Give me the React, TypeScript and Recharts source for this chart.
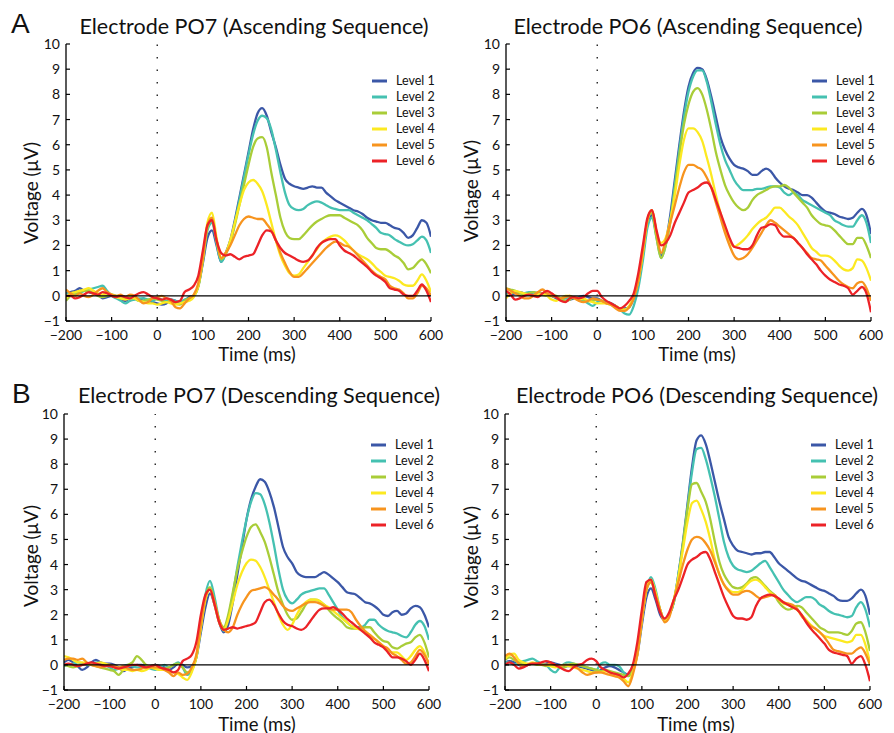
import React from 'react';
import { LineChart, Line, XAxis, YAxis, ReferenceLine } from 'recharts';

const TIMES = [
  -200, -190, -180, -170, -160, -150, -140, -130, -120, -110, -100, -90, -80, -70, -60, -50, -40, -30, -20, -10,
  0, 10, 20, 30, 40, 50, 60, 70, 80, 90, 100, 110, 120, 130, 140, 150, 160, 170, 180, 190,
  200, 210, 220, 230, 240, 250, 260, 270, 280, 290, 300, 310, 320, 330, 340, 350, 360, 370, 380, 390,
  400, 410, 420, 430, 440, 450, 460, 470, 480, 490, 500, 510, 520, 530, 540, 550, 560, 570, 580, 590, 600,
];
const X_TICKS = [-200, -100, 0, 100, 200, 300, 400, 500, 600];
const Y_TICKS = [-1, 0, 1, 2, 3, 4, 5, 6, 7, 8, 9, 10];
const LEVELS = ['Level 1', 'Level 2', 'Level 3', 'Level 4', 'Level 5', 'Level 6'];
const COLORS = ['#3b57a7', '#45c1b1', '#a9cd38', '#fce921', '#f7941e', '#ec2227'];

// Electrode PO7, ascending sequence
const PO7_ASC_L1 = [0.1,0.15,0.2,0.3,0.2,0.15,0.1,0.05,-0.1,-0.05,0.0,-0.05,-0.15,-0.2,-0.1,-0.1,-0.15,-0.1,-0.2,-0.25,
  -0.3,-0.35,-0.3,-0.15,-0.2,-0.3,-0.2,-0.05,0.0,0.4, 1.3,2.3,2.6,2.0,1.35,1.7,2.2,3.0,3.9,4.8,
  5.7,6.6,7.25,7.45,7.15,6.5,5.9,5.2,4.65,4.45, 4.35,4.3,4.25,4.3,4.35,4.3,4.3,4.1,3.95,3.8,
  3.7,3.6,3.5,3.4,3.35,3.25,3.1,3.0,2.95,2.9,2.9,2.8,2.7,2.65,2.5,2.3,2.4,2.7,3.0,2.9,2.35];
const PO7_ASC_L2 = [0.1,0.1,0.05,0.1,0.2,0.25,0.3,0.35,0.4,0.2,0.0,-0.1,-0.2,-0.3,-0.2,-0.15,-0.1,-0.1,-0.15,-0.2,
  -0.1,-0.15,-0.2,-0.15,-0.2,-0.25,-0.15,-0.1,0.0,0.4, 1.4,2.6,2.9,2.1,1.35,1.65,2.1,2.9,3.8,4.7,
  5.6,6.4,6.95,7.15,7.05,6.6,5.8,4.9,4.1,3.6, 3.45,3.4,3.45,3.6,3.7,3.75,3.7,3.6,3.5,3.45,
  3.4,3.4,3.4,3.3,3.2,3.1,3.0,2.85,2.7,2.5,2.45,2.4,2.25,2.15,2.05,2.0,2.05,2.2,2.35,2.2,1.7];
const PO7_ASC_L3 = [-0.2,0.0,0.1,0.15,0.2,0.2,0.1,0.0,-0.05,0.0,0.05,0.0,-0.1,-0.1,-0.05,-0.1,-0.2,-0.2,-0.15,-0.1,
  -0.15,-0.2,-0.25,-0.2,-0.3,-0.35,-0.2,-0.1,0.0,0.35, 1.4,2.7,3.0,2.2,1.45,1.65,2.1,2.8,3.6,4.4,
  5.2,5.9,6.25,6.3,5.9,4.9,4.0,3.1,2.55,2.3, 2.25,2.25,2.4,2.6,2.8,2.95,3.05,3.15,3.2,3.2,
  3.2,3.1,3.0,2.9,2.8,2.6,2.3,2.1,1.9,1.85,1.85,1.75,1.6,1.5,1.3,1.05,1.1,1.3,1.45,1.25,0.9];
const PO7_ASC_L4 = [-0.1,0.1,0.15,0.2,0.25,0.3,0.2,0.1,0.05,0.1,0.05,-0.05,-0.1,-0.15,-0.1,-0.1,-0.2,-0.25,-0.3,-0.3,
  -0.35,-0.3,-0.25,-0.3,-0.35,-0.3,-0.25,-0.2,-0.05,0.4, 1.5,2.9,3.3,2.3,1.5,1.7,2.2,2.9,3.6,4.2,
  4.5,4.6,4.45,4.15,3.6,2.9,2.2,1.6,1.2,0.9, 0.8,0.85,1.1,1.35,1.6,1.85,2.1,2.25,2.35,2.4,
  2.35,2.2,2.0,1.8,1.65,1.55,1.45,1.3,1.1,0.95,0.8,0.75,0.7,0.6,0.45,0.4,0.4,0.6,0.85,0.6,0.15];
const PO7_ASC_L5 = [0.25,0.1,0.0,0.1,0.0,-0.05,0.05,0.2,0.3,0.15,0.05,0.0,0.05,-0.05,0.05,0.0,-0.15,-0.3,-0.25,-0.1,
  -0.05,0.0,-0.1,-0.2,-0.45,-0.5,-0.3,-0.1,0.05,0.5, 1.5,2.8,3.1,2.2,1.5,1.7,2.0,2.4,2.8,3.05,
  3.15,3.1,3.05,3.05,2.85,2.6,2.2,1.7,1.3,0.95, 0.75,0.75,0.9,1.1,1.3,1.5,1.7,1.9,2.05,2.15,
  2.1,2.0,1.95,1.8,1.6,1.4,1.2,1.0,0.85,0.75,0.65,0.4,0.3,0.25,0.1,-0.1,-0.1,0.1,0.4,0.3,0.0];
const PO7_ASC_L6 = [0.0,0.0,-0.1,-0.05,0.05,0.15,0.1,0.05,0.15,0.1,0.0,-0.05,0.0,-0.05,-0.1,0.0,0.1,0.15,0.05,-0.05,
  -0.1,-0.15,-0.1,-0.15,-0.25,-0.2,0.15,0.25,0.4,0.8, 1.8,2.8,3.0,2.2,1.7,1.6,1.65,1.55,1.45,1.55,
  1.6,1.65,2.0,2.4,2.6,2.55,2.2,1.9,1.7,1.6, 1.5,1.4,1.35,1.4,1.6,1.9,2.1,2.2,2.25,2.25,
  2.0,1.8,1.7,1.6,1.45,1.3,1.15,0.95,0.8,0.7,0.55,0.3,0.25,0.2,0.05,0.0,0.0,0.2,0.45,0.2,-0.25];

// Electrode PO6, ascending sequence
const PO6_ASC_L1 = [0.0,0.05,0.1,0.15,0.1,0.1,0.05,0.1,0.1,0.05,0.0,-0.1,-0.15,-0.2,-0.15,-0.1,-0.05,0.0,-0.05,-0.1,
  -0.1,-0.2,-0.25,-0.3,-0.4,-0.5,-0.5,-0.45,-0.1,0.5, 1.6,2.9,3.2,2.4,1.6,2.1,3.2,4.6,6.0,7.3,
  8.3,8.85,9.05,9.0,8.6,7.9,7.1,6.3,5.8,5.45, 5.2,5.1,5.05,4.95,4.8,4.8,4.95,5.05,4.95,4.7,
  4.5,4.35,4.25,4.2,4.1,4.0,4.0,3.9,3.7,3.5,3.35,3.3,3.25,3.15,3.1,3.05,3.1,3.3,3.45,3.2,2.45];
const PO6_ASC_L2 = [0.1,0.1,0.15,0.1,0.1,0.15,0.15,0.1,0.05,0.05,0.0,-0.05,-0.1,-0.1,-0.05,-0.1,-0.15,-0.2,-0.3,-0.4,
  -0.25,-0.2,-0.25,-0.3,-0.4,-0.55,-0.7,-0.75,-0.4,0.3, 1.4,2.7,3.1,2.3,1.5,2.0,3.0,4.4,5.8,7.1,
  8.1,8.7,8.95,8.95,8.5,7.7,6.8,6.0,5.4,5.0, 4.6,4.35,4.2,4.2,4.2,4.25,4.25,4.3,4.35,4.35,
  4.3,4.1,4.0,4.1,4.0,3.8,3.7,3.6,3.5,3.4,3.3,3.2,3.0,2.9,2.8,2.75,2.75,3.0,3.2,2.9,2.1];
const PO6_ASC_L3 = [0.3,0.25,0.2,0.1,0.05,0.1,0.15,0.1,0.05,0.0,0.05,0.0,-0.1,-0.2,-0.15,-0.05,-0.1,-0.15,-0.2,-0.2,
  -0.15,-0.2,-0.3,-0.35,-0.45,-0.55,-0.55,-0.45,-0.05,0.6, 1.7,3.0,3.3,2.3,1.5,2.0,2.9,4.2,5.6,6.8,
  7.6,8.1,8.25,8.0,7.4,6.6,5.7,5.0,4.4,4.0, 3.7,3.5,3.4,3.5,3.8,4.0,4.1,4.2,4.3,4.35,
  4.35,4.4,4.3,4.1,3.9,3.7,3.5,3.2,3.0,2.85,2.8,2.75,2.6,2.4,2.2,2.05,2.05,2.3,2.3,2.0,1.5];
const PO6_ASC_L4 = [-0.1,0.1,0.2,0.15,0.1,0.05,0.0,0.05,0.1,0.0,-0.15,-0.2,-0.1,0.0,0.0,-0.1,-0.15,-0.1,-0.2,-0.25,
  -0.3,-0.3,-0.3,-0.35,-0.4,-0.5,-0.55,-0.4,0.0,0.6, 1.7,3.0,3.4,2.5,2.1,2.3,3.0,4.0,5.2,6.2,
  6.65,6.65,6.5,6.15,5.5,4.8,4.0,3.3,2.7,2.2, 1.95,2.05,2.2,2.4,2.65,2.85,3.0,3.1,3.3,3.5,
  3.5,3.35,3.15,3.0,2.8,2.5,2.2,1.9,1.75,1.6,1.6,1.55,1.4,1.2,1.05,1.0,1.1,1.45,1.4,1.1,0.6];
const PO6_ASC_L5 = [0.3,0.2,0.1,0.0,-0.1,-0.1,0.0,0.15,0.25,0.1,0.0,-0.05,-0.1,-0.05,0.0,-0.1,-0.2,-0.25,-0.2,-0.1,
  -0.15,-0.2,-0.3,-0.35,-0.5,-0.6,-0.6,-0.45,-0.1,0.6, 1.8,3.0,3.4,2.5,1.7,2.2,2.9,3.6,4.3,4.9,
  5.2,5.2,5.1,5.0,4.7,4.3,3.7,3.1,2.5,2.0, 1.6,1.45,1.5,1.65,1.9,2.2,2.5,2.8,3.0,2.9,
  2.75,2.6,2.45,2.3,2.1,1.9,1.7,1.5,1.45,1.4,1.2,1.0,0.8,0.6,0.45,0.35,0.3,0.5,0.55,0.3,-0.2];
const PO6_ASC_L6 = [0.2,0.05,-0.15,-0.1,0.0,0.05,0.0,-0.05,0.1,0.2,0.1,-0.05,-0.2,-0.25,-0.1,-0.05,-0.1,-0.05,0.1,0.2,
  0.2,-0.05,-0.2,-0.3,-0.4,-0.5,-0.4,-0.2,0.1,0.9, 2.0,3.1,3.4,2.6,2.0,2.1,2.4,2.9,3.3,3.7,
  4.1,4.2,4.3,4.45,4.5,4.3,3.8,3.3,2.8,2.3, 1.95,1.9,1.85,1.85,2.0,2.4,2.7,2.75,2.85,2.8,
  2.5,2.35,2.35,2.3,2.1,1.9,1.65,1.45,1.25,1.0,0.8,0.65,0.55,0.45,0.4,0.3,0.05,0.2,0.35,0.1,-0.65];

// Electrode PO7, descending sequence
const PO7_DESC_L1 = [0.1,0.2,0.1,-0.05,-0.2,-0.1,0.1,0.2,0.1,0.05,0.05,0.0,-0.1,-0.25,-0.15,-0.1,0.0,0.0,-0.05,-0.1,
  0.0,-0.05,-0.1,-0.2,-0.1,0.05,0.0,-0.1,-0.05,0.3, 1.3,2.3,2.85,2.4,1.7,1.3,1.6,2.5,3.6,4.7,
  5.8,6.6,7.1,7.4,7.3,6.9,6.3,5.5,4.7,4.3, 4.05,3.7,3.55,3.5,3.5,3.5,3.6,3.7,3.6,3.45,
  3.3,3.1,2.9,2.85,2.8,2.65,2.5,2.45,2.35,2.2,2.0,1.95,2.1,2.15,2.0,2.05,2.25,2.35,2.3,2.0,1.5];
const PO7_DESC_L2 = [-0.05,0.0,0.05,0.1,0.05,0.0,0.0,0.1,0.05,0.0,-0.1,-0.2,-0.15,-0.05,0.0,-0.05,-0.1,-0.1,-0.1,-0.15,
  -0.2,-0.1,0.0,-0.1,0.0,0.1,-0.1,-0.4,-0.2,0.3, 1.5,2.8,3.35,2.7,1.8,1.35,1.9,2.8,3.9,4.9,
  5.8,6.5,6.85,6.8,6.4,5.7,4.8,3.8,3.0,2.6, 2.45,2.6,2.8,2.9,2.95,3.0,3.05,3.05,2.8,2.5,
  2.2,1.9,1.7,1.55,1.5,1.5,1.6,1.8,1.8,1.6,1.45,1.35,1.3,1.25,1.15,1.1,1.3,1.6,1.75,1.55,1.0];
const PO7_DESC_L3 = [0.0,-0.05,-0.1,-0.05,0.0,0.05,0.0,-0.05,-0.1,-0.15,-0.2,-0.25,-0.4,-0.2,0.0,0.1,0.35,0.2,0.0,-0.1,
  -0.15,-0.2,-0.15,-0.1,0.0,0.05,-0.1,-0.3,-0.2,0.3, 1.5,2.7,3.1,2.5,1.8,1.5,2.0,2.9,3.8,4.5,
  5.1,5.5,5.6,5.3,4.9,4.3,3.6,2.9,2.4,2.0, 1.8,1.85,2.1,2.4,2.6,2.6,2.55,2.4,2.2,2.0,
  1.85,1.7,1.5,1.45,1.45,1.45,1.5,1.5,1.3,1.1,0.95,0.9,0.7,0.65,0.75,0.85,0.9,1.1,1.2,0.9,0.3];
const PO7_DESC_L4 = [0.35,0.3,0.2,0.1,0.1,0.05,0.0,0.05,0.1,0.05,0.0,-0.1,-0.15,-0.2,-0.2,-0.25,-0.2,-0.25,-0.2,-0.1,
  -0.15,-0.2,-0.2,-0.25,-0.3,-0.35,-0.5,-0.6,-0.3,0.3, 1.5,2.6,3.0,2.4,1.7,1.4,1.8,2.5,3.2,3.7,
  4.05,4.2,4.15,3.9,3.5,3.0,2.5,2.0,1.6,1.4, 1.6,2.0,2.3,2.5,2.6,2.6,2.55,2.4,2.3,2.15,
  2.0,1.85,1.7,1.55,1.45,1.4,1.3,1.2,1.05,0.9,0.75,0.6,0.5,0.5,0.35,0.2,0.35,0.6,0.75,0.5,0.0];
const PO7_DESC_L5 = [0.2,0.25,0.25,0.2,0.25,0.1,0.0,-0.05,-0.1,-0.05,0.0,-0.05,-0.1,-0.05,-0.15,-0.2,-0.2,-0.15,-0.1,-0.1,
  -0.1,-0.1,-0.2,-0.3,-0.45,-0.3,-0.4,-0.35,-0.1,0.4, 1.6,2.7,3.0,2.5,1.8,1.4,1.3,1.5,2.0,2.4,
  2.7,2.95,3.0,3.05,3.1,3.0,2.8,2.6,2.35,2.2, 2.15,2.25,2.35,2.45,2.5,2.5,2.45,2.35,2.25,2.2,
  2.2,2.2,2.2,2.1,1.8,1.55,1.35,1.2,1.05,0.9,0.75,0.65,0.45,0.35,0.2,0.05,0.1,0.35,0.6,0.4,0.05];
const PO7_DESC_L6 = [0.0,0.05,0.0,-0.05,0.0,0.05,0.1,0.05,0.0,-0.05,-0.05,-0.1,-0.15,-0.1,-0.05,0.0,0.0,-0.05,-0.1,-0.05,
  0.0,-0.1,-0.15,-0.2,-0.3,-0.2,0.15,0.25,0.4,0.9, 2.0,2.8,3.0,2.4,1.7,1.4,1.45,1.5,1.45,1.5,
  1.55,1.6,1.7,2.1,2.5,2.6,2.4,2.05,1.75,1.6, 1.55,1.45,1.4,1.5,1.75,2.0,2.2,2.25,2.25,2.3,
  2.2,2.05,1.85,1.7,1.55,1.4,1.25,1.1,0.9,0.8,0.7,0.5,0.3,0.3,0.25,0.15,0.0,0.2,0.45,0.2,-0.25];

// Electrode PO6, descending sequence
const PO6_DESC_L1 = [0.1,0.15,0.1,0.0,-0.05,0.0,0.05,0.05,0.0,0.05,0.1,0.05,0.0,-0.05,-0.05,0.0,-0.05,-0.1,-0.15,-0.2,
  -0.3,-0.2,-0.1,-0.05,-0.1,-0.2,-0.3,-0.4,-0.2,0.4, 1.6,2.7,3.05,2.6,2.0,1.8,2.0,2.5,3.6,4.9,
  6.4,7.9,8.95,9.15,8.8,8.1,7.3,6.5,5.8,5.1, 4.75,4.55,4.5,4.45,4.4,4.45,4.45,4.5,4.5,4.3,
  4.05,3.9,3.75,3.6,3.45,3.35,3.3,3.2,3.1,3.0,2.95,2.85,2.75,2.6,2.55,2.55,2.65,2.85,3.0,2.75,2.0];
const PO6_DESC_L2 = [0.1,0.1,0.0,0.1,0.15,0.2,0.25,0.15,0.05,0.0,-0.2,-0.3,-0.1,0.05,0.1,0.05,0.0,-0.05,-0.1,-0.15,
  -0.2,0.05,0.1,0.0,0.0,-0.05,-0.3,-0.45,-0.2,0.5, 1.8,3.0,3.5,3.0,2.2,1.75,2.0,2.5,3.6,4.8,
  6.3,7.7,8.6,8.65,8.2,7.5,6.7,5.8,4.9,4.3, 3.95,3.8,3.75,3.7,3.75,3.9,4.05,4.15,3.9,3.6,
  3.3,3.0,2.8,2.6,2.5,2.6,2.7,2.7,2.6,2.4,2.3,2.15,2.05,2.0,1.95,1.9,1.95,2.3,2.5,2.2,1.5];
const PO6_DESC_L3 = [0.2,0.3,0.2,0.1,0.05,0.0,0.05,0.0,0.0,-0.05,0.0,-0.05,-0.1,-0.1,0.0,0.05,0.0,-0.05,-0.1,-0.15,
  -0.2,-0.25,-0.2,-0.25,-0.3,-0.35,-0.4,-0.45,-0.2,0.5, 1.8,3.0,3.3,2.8,2.2,1.8,2.0,2.5,3.5,4.8,
  6.2,7.2,7.25,6.9,6.5,5.8,4.9,4.1,3.6,3.3, 3.1,3.05,3.1,3.25,3.45,3.5,3.35,3.15,2.95,2.8,
  2.5,2.3,2.2,2.25,2.35,2.3,2.1,1.9,1.7,1.5,1.4,1.3,1.3,1.3,1.25,1.2,1.35,1.65,1.7,1.3,0.55];
const PO6_DESC_L4 = [0.25,0.4,0.45,0.2,0.1,0.05,0.1,0.05,0.0,0.0,-0.05,-0.1,-0.05,0.0,-0.05,-0.1,-0.15,-0.2,-0.25,-0.3,
  -0.3,-0.3,-0.25,-0.3,-0.35,-0.45,-0.55,-0.7,-0.3,0.4, 1.8,3.0,3.4,2.9,2.2,1.75,2.0,2.6,3.5,4.6,
  5.7,6.45,6.55,6.2,5.7,5.0,4.2,3.6,3.2,3.0, 2.9,2.9,3.0,3.2,3.35,3.4,3.3,3.1,2.9,2.75,
  2.6,2.45,2.4,2.3,2.2,2.0,1.8,1.6,1.45,1.3,1.15,1.1,1.05,1.0,0.95,0.9,0.95,1.2,1.2,0.8,0.1];
const PO6_DESC_L5 = [0.35,0.45,0.3,0.05,-0.05,0.0,0.05,0.05,0.0,0.0,0.05,0.0,-0.05,0.0,0.0,-0.05,-0.15,-0.3,-0.4,-0.35,
  -0.3,-0.3,-0.35,-0.4,-0.45,-0.5,-0.65,-0.85,-0.4,0.4, 1.8,3.0,3.3,2.8,2.2,1.7,1.9,2.6,3.3,4.0,
  4.6,5.0,5.1,5.05,4.85,4.55,4.1,3.6,3.2,2.95, 2.8,2.8,2.9,2.95,2.9,2.75,2.65,2.7,2.75,2.8,
  2.6,2.5,2.45,2.4,2.25,1.95,1.75,1.55,1.45,1.3,1.1,0.85,0.6,0.55,0.5,0.45,0.45,0.6,0.7,0.45,0.0];
const PO6_DESC_L6 = [0.0,0.1,0.0,-0.15,-0.1,0.0,0.05,0.05,0.1,0.15,0.1,0.0,-0.1,-0.2,-0.25,-0.1,0.0,0.05,0.2,0.25,
  0.15,-0.1,-0.2,-0.3,-0.35,-0.4,-0.5,-0.35,0.0,0.9, 2.2,3.3,3.4,2.7,2.1,1.85,2.1,2.6,3.0,3.5,
  4.0,4.2,4.3,4.45,4.5,4.2,3.7,3.2,2.7,2.3, 1.95,1.85,1.85,1.8,1.9,2.35,2.65,2.75,2.8,2.75,
  2.65,2.5,2.4,2.3,2.2,2.0,1.7,1.45,1.25,1.05,0.85,0.6,0.5,0.45,0.4,0.35,0.05,0.25,0.35,0.0,-0.65];

const buildRows = (series: number[][]) =>
  TIMES.map((t, i) => {
    const row: Record<string, number> = { t };
    series.forEach((s, k) => {
      row['l' + (k + 1)] = s[i];
    });
    return row;
  });

const FONT = 'Lato, "Open Sans", sans-serif';
const fmt = (v: number) => String(v).replace('-', '\u2212');

const XTick = (props: any) => {
  const { x, y, payload } = props;
  return (
    <g>
      <line x1={x} y1={y} x2={x} y2={y - 4} stroke="#000" strokeWidth={1.2} />
      <text x={x} y={y + 19} textAnchor="middle" fontFamily={FONT} fontSize={14} fill="#111">
        {fmt(payload.value)}
      </text>
    </g>
  );
};

const YTick = (props: any) => {
  const { x, y, payload } = props;
  return (
    <g>
      <line x1={x} y1={y} x2={x + 4} y2={y} stroke="#000" strokeWidth={1.2} />
      <text x={x - 6} y={y + 5} textAnchor="end" fontFamily={FONT} fontSize={14} fill="#111">
        {fmt(payload.value)}
      </text>
    </g>
  );
};

type PanelProps = {
  left: number;
  top: number;
  width: number;
  height: number;
  yAxisWidth: number;
  right: number;
  xAxisHeight: number;
  series: number[][];
};

const Panel = ({ left, top, width, height, yAxisWidth, right, xAxisHeight, series }: PanelProps) => {
  const rows = buildRows(series);
  return (
    <div style={{ position: 'absolute', left, top, width, height }}>
      <LineChart
        width={width}
        height={height}
        data={rows}
        margin={{ top: 44, right, bottom: 0, left: 0 }}
      >
        <XAxis
          dataKey="t"
          type="number"
          domain={[-200, 600]}
          ticks={X_TICKS}
          interval={0}
          height={xAxisHeight}
          tickSize={0}
          tickMargin={0}
          tickLine={false}
          axisLine={{ stroke: '#000', strokeWidth: 1.3 }}
          tick={<XTick />}
          allowDataOverflow
        />
        <YAxis
          type="number"
          domain={[-1, 10]}
          ticks={Y_TICKS}
          interval={0}
          width={yAxisWidth}
          tickSize={0}
          tickMargin={0}
          tickLine={false}
          axisLine={{ stroke: '#000', strokeWidth: 1.3 }}
          tick={<YTick />}
          allowDataOverflow
        />
        {LEVELS.map((name, k) => (
          <Line
            key={name}
            name={name}
            dataKey={'l' + (k + 1)}
            type="monotone"
            stroke={COLORS[k]}
            strokeWidth={2.3}
            dot={false}
            activeDot={false}
            isAnimationActive={false}
          />
        ))}
        <ReferenceLine y={0} stroke="#000" strokeWidth={1.3} />
        <ReferenceLine x={0} stroke="#222" strokeWidth={1.4} strokeDasharray="1.4 11.1" />
      </LineChart>
    </div>
  );
};

const PANELS = [
  { left: 0, top: 0, width: 447, height: 370, yAxisWidth: 66, right: 16, xAxisHeight: 49, series: [PO7_ASC_L1, PO7_ASC_L2, PO7_ASC_L3, PO7_ASC_L4, PO7_ASC_L5, PO7_ASC_L6], title: 'Electrode PO7 (Ascending Sequence)', titleX: 254, titleY: 34, labelX: 38, labelY: 193, timeX: 257, timeY: 361, legendX: 372, legendY: 81 },
  { left: 447, top: 0, width: 447, height: 370, yAxisWidth: 59, right: 23, xAxisHeight: 49, series: [PO6_ASC_L1, PO6_ASC_L2, PO6_ASC_L3, PO6_ASC_L4, PO6_ASC_L5, PO6_ASC_L6], title: 'Electrode PO6 (Ascending Sequence)', titleX: 688, titleY: 34, labelX: 478, labelY: 191, timeX: 697, timeY: 361, legendX: 812, legendY: 81 },
  { left: 0, top: 370, width: 447, height: 363, yAxisWidth: 64, right: 18, xAxisHeight: 43, series: [PO7_DESC_L1, PO7_DESC_L2, PO7_DESC_L3, PO7_DESC_L4, PO7_DESC_L5, PO7_DESC_L6], title: 'Electrode PO7 (Descending Sequence)', titleX: 259, titleY: 403, labelX: 38, labelY: 556, timeX: 257, timeY: 730.5, legendX: 371, legendY: 445 },
  { left: 447, top: 370, width: 447, height: 363, yAxisWidth: 58, right: 24, xAxisHeight: 43, series: [PO6_DESC_L1, PO6_DESC_L2, PO6_DESC_L3, PO6_DESC_L4, PO6_DESC_L5, PO6_DESC_L6], title: 'Electrode PO6 (Descending Sequence)', titleX: 697, titleY: 403, labelX: 478, labelY: 557, timeX: 696, timeY: 730.5, legendX: 811, legendY: 445 },
];

export default function App() {
  return (
    <div style={{ position: 'absolute', left: 0, top: 0, width: 894, height: 733, background: '#fff', overflow: 'hidden' }}>
      {PANELS.map((p, i) => (
        <Panel key={i} {...p} />
      ))}
      <svg width={894} height={733} style={{ position: 'absolute', left: 0, top: 0, pointerEvents: 'none' }}>
        <text x={11} y={33} fontFamily='"Liberation Sans", Arial, sans-serif' fontSize={28} fill="#111">A</text>
        <text x={12} y={403} fontFamily='"Liberation Sans", Arial, sans-serif' fontSize={28} fill="#111">B</text>
        {PANELS.map((p, i) => (
          <g key={i} fontFamily={FONT} fill="#111">
            <text x={p.titleX} y={p.titleY} textAnchor="middle" fontSize={21.5}>{p.title}</text>
            <text x={p.timeX} y={p.timeY} textAnchor="middle" fontSize={18.5}>Time (ms)</text>
            <text transform={`translate(${p.labelX},${p.labelY}) rotate(-90)`} textAnchor="middle" fontSize={19}>Voltage (μV)</text>
            {LEVELS.map((name, k) => (
              <g key={name}>
                <line x1={p.legendX} x2={p.legendX + 15} y1={p.legendY + 16 * k} y2={p.legendY + 16 * k} stroke={COLORS[k]} strokeWidth={3} />
                <text x={p.legendX + 24} y={p.legendY + 16 * k + 4} fontSize={12.5}>{name}</text>
              </g>
            ))}
          </g>
        ))}
      </svg>
    </div>
  );
}
